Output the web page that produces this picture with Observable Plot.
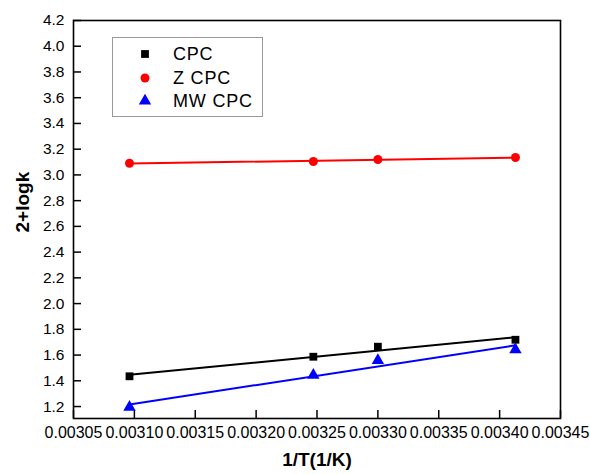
<!DOCTYPE html>
<html><head><meta charset="utf-8">
<script src="https://cdn.jsdelivr.net/npm/d3@7"></script>
<script src="https://cdn.jsdelivr.net/npm/@observablehq/plot@0.6"></script>
<style>
body{margin:0;background:#fff;}
#wrap{position:relative;width:590px;height:474px;}
#legend{position:absolute;left:112px;top:37px;width:151px;height:80px;border:1px solid #999;background:#fff;box-sizing:border-box;font-family:"Liberation Sans",Arial,sans-serif;}
.row{position:absolute;left:0;height:24px;}
.row svg{position:absolute;left:20px;top:0;}
.row span{position:absolute;left:60px;font-size:18px;letter-spacing:0.8px;white-space:nowrap;color:#000;line-height:24px;top:0;}
</style></head><body><div id="wrap"></div>
<script>
// Data
const invT = [0.003096, 0.003247, 0.003300, 0.003413];   // 1/T (1/K)
const seriesNames = ["CPC", "Z CPC", "MW CPC"];
const cpc   = [1.435, 1.587, 1.665, 1.719];
const zcpc  = [3.091, 3.104, 3.120, 3.135];
const mwcpc = [1.195, 1.443, 1.558, 1.642];
const xTicks = [0.00305, 0.00310, 0.00315, 0.00320, 0.00325, 0.00330, 0.00335, 0.00340, 0.00345];
const yTicks = [1.2, 1.4, 1.6, 1.8, 2.0, 2.2, 2.4, 2.6, 2.8, 3.0, 3.2, 3.4, 3.6, 3.8, 4.0, 4.2];
const xTitle = "1/T(1/K)";
const yTitle = "2+logk";

const colors = ["#000000", "#ff0000", "#0000ff"];
const symbols = ["square", "circle", "triangle"];
const radii = [4.4, 4.5, 4.6];

const valuesBySeries = [cpc, zcpc, mwcpc];
const rows = seriesNames.flatMap((s, i) => invT.map((x, j) => ({s, x, y: valuesBySeries[i][j], r: radii[i]})));

const W = 590, H = 474, mL = 73, mR = 30, mT = 20, mB = 56;
const innerW = W - mL - mR, innerH = H - mT - mB;
const font = "'Liberation Sans', Arial, sans-serif";

const chart = Plot.plot({
  width: W, height: H,
  marginLeft: mL, marginRight: mR, marginTop: mT, marginBottom: mB,
  style: {fontFamily: font, fontSize: "15px", color: "#000", background: "#fff"},
  x: {domain: [0.00305, 0.00345], axis: null},
  y: {domain: [1.107, 4.2], axis: null},
  color: {domain: seriesNames, range: colors},
  symbol: {domain: seriesNames, range: symbols},
  r: {type: "identity"},
  marks: [
    Plot.axisX({ticks: xTicks, tickFormat: d => d.toFixed(5), tickSize: 0, tickPadding: 8, label: null, fontSize: 16}),
    Plot.axisY({ticks: yTicks, tickFormat: d => d.toFixed(1), tickSize: 0, tickPadding: 9, label: null, fontSize: 15.5}),
    Plot.tickX(xTicks, {x: d => d, insetTop: innerH - 8, stroke: "#000", strokeWidth: 1.5}),
    Plot.tickY(yTicks, {y: d => d, insetRight: innerW - 8, stroke: "#000", strokeWidth: 1.5}),
    Plot.frame({stroke: "#000", strokeWidth: 1.6}),
    Plot.linearRegressionY(rows, {x: "x", y: "y", stroke: "s", z: "s", ci: 0, strokeWidth: 2}),
    Plot.dot(rows, {x: "x", y: "y", fill: "s", symbol: "s", r: "r", stroke: null}),
    Plot.text([yTitle], {frameAnchor: "left", dx: -51, dy: 13, rotate: -90, fontWeight: "bold", fontSize: 19}),
    Plot.text([xTitle], {frameAnchor: "bottom", dy: 47, fontWeight: "bold", fontSize: 19})
  ]
});

const wrap = document.getElementById("wrap");
wrap.appendChild(chart);

// Legend
const legend = document.createElement("div");
legend.id = "legend";
const rowCenters = [16.3, 40.3, 63];
seriesNames.forEach((s, i) => {
  const row = document.createElement("div");
  row.className = "row";
  row.style.top = (rowCenters[i] - 12) + "px";
  row.style.width = "100%";
  const sym = {square: d3.symbolSquare, circle: d3.symbolCircle, triangle: d3.symbolTriangle}[symbols[i]];
  const path = d3.symbol(sym, Math.PI * radii[i] * radii[i])();
  row.innerHTML = `<svg width="24" height="24" viewBox="-12 -12 24 24"><path d="${path}" fill="${colors[i]}"/></svg><span>${s}</span>`;
  legend.appendChild(row);
});
wrap.appendChild(legend);
</script>
</body></html>
